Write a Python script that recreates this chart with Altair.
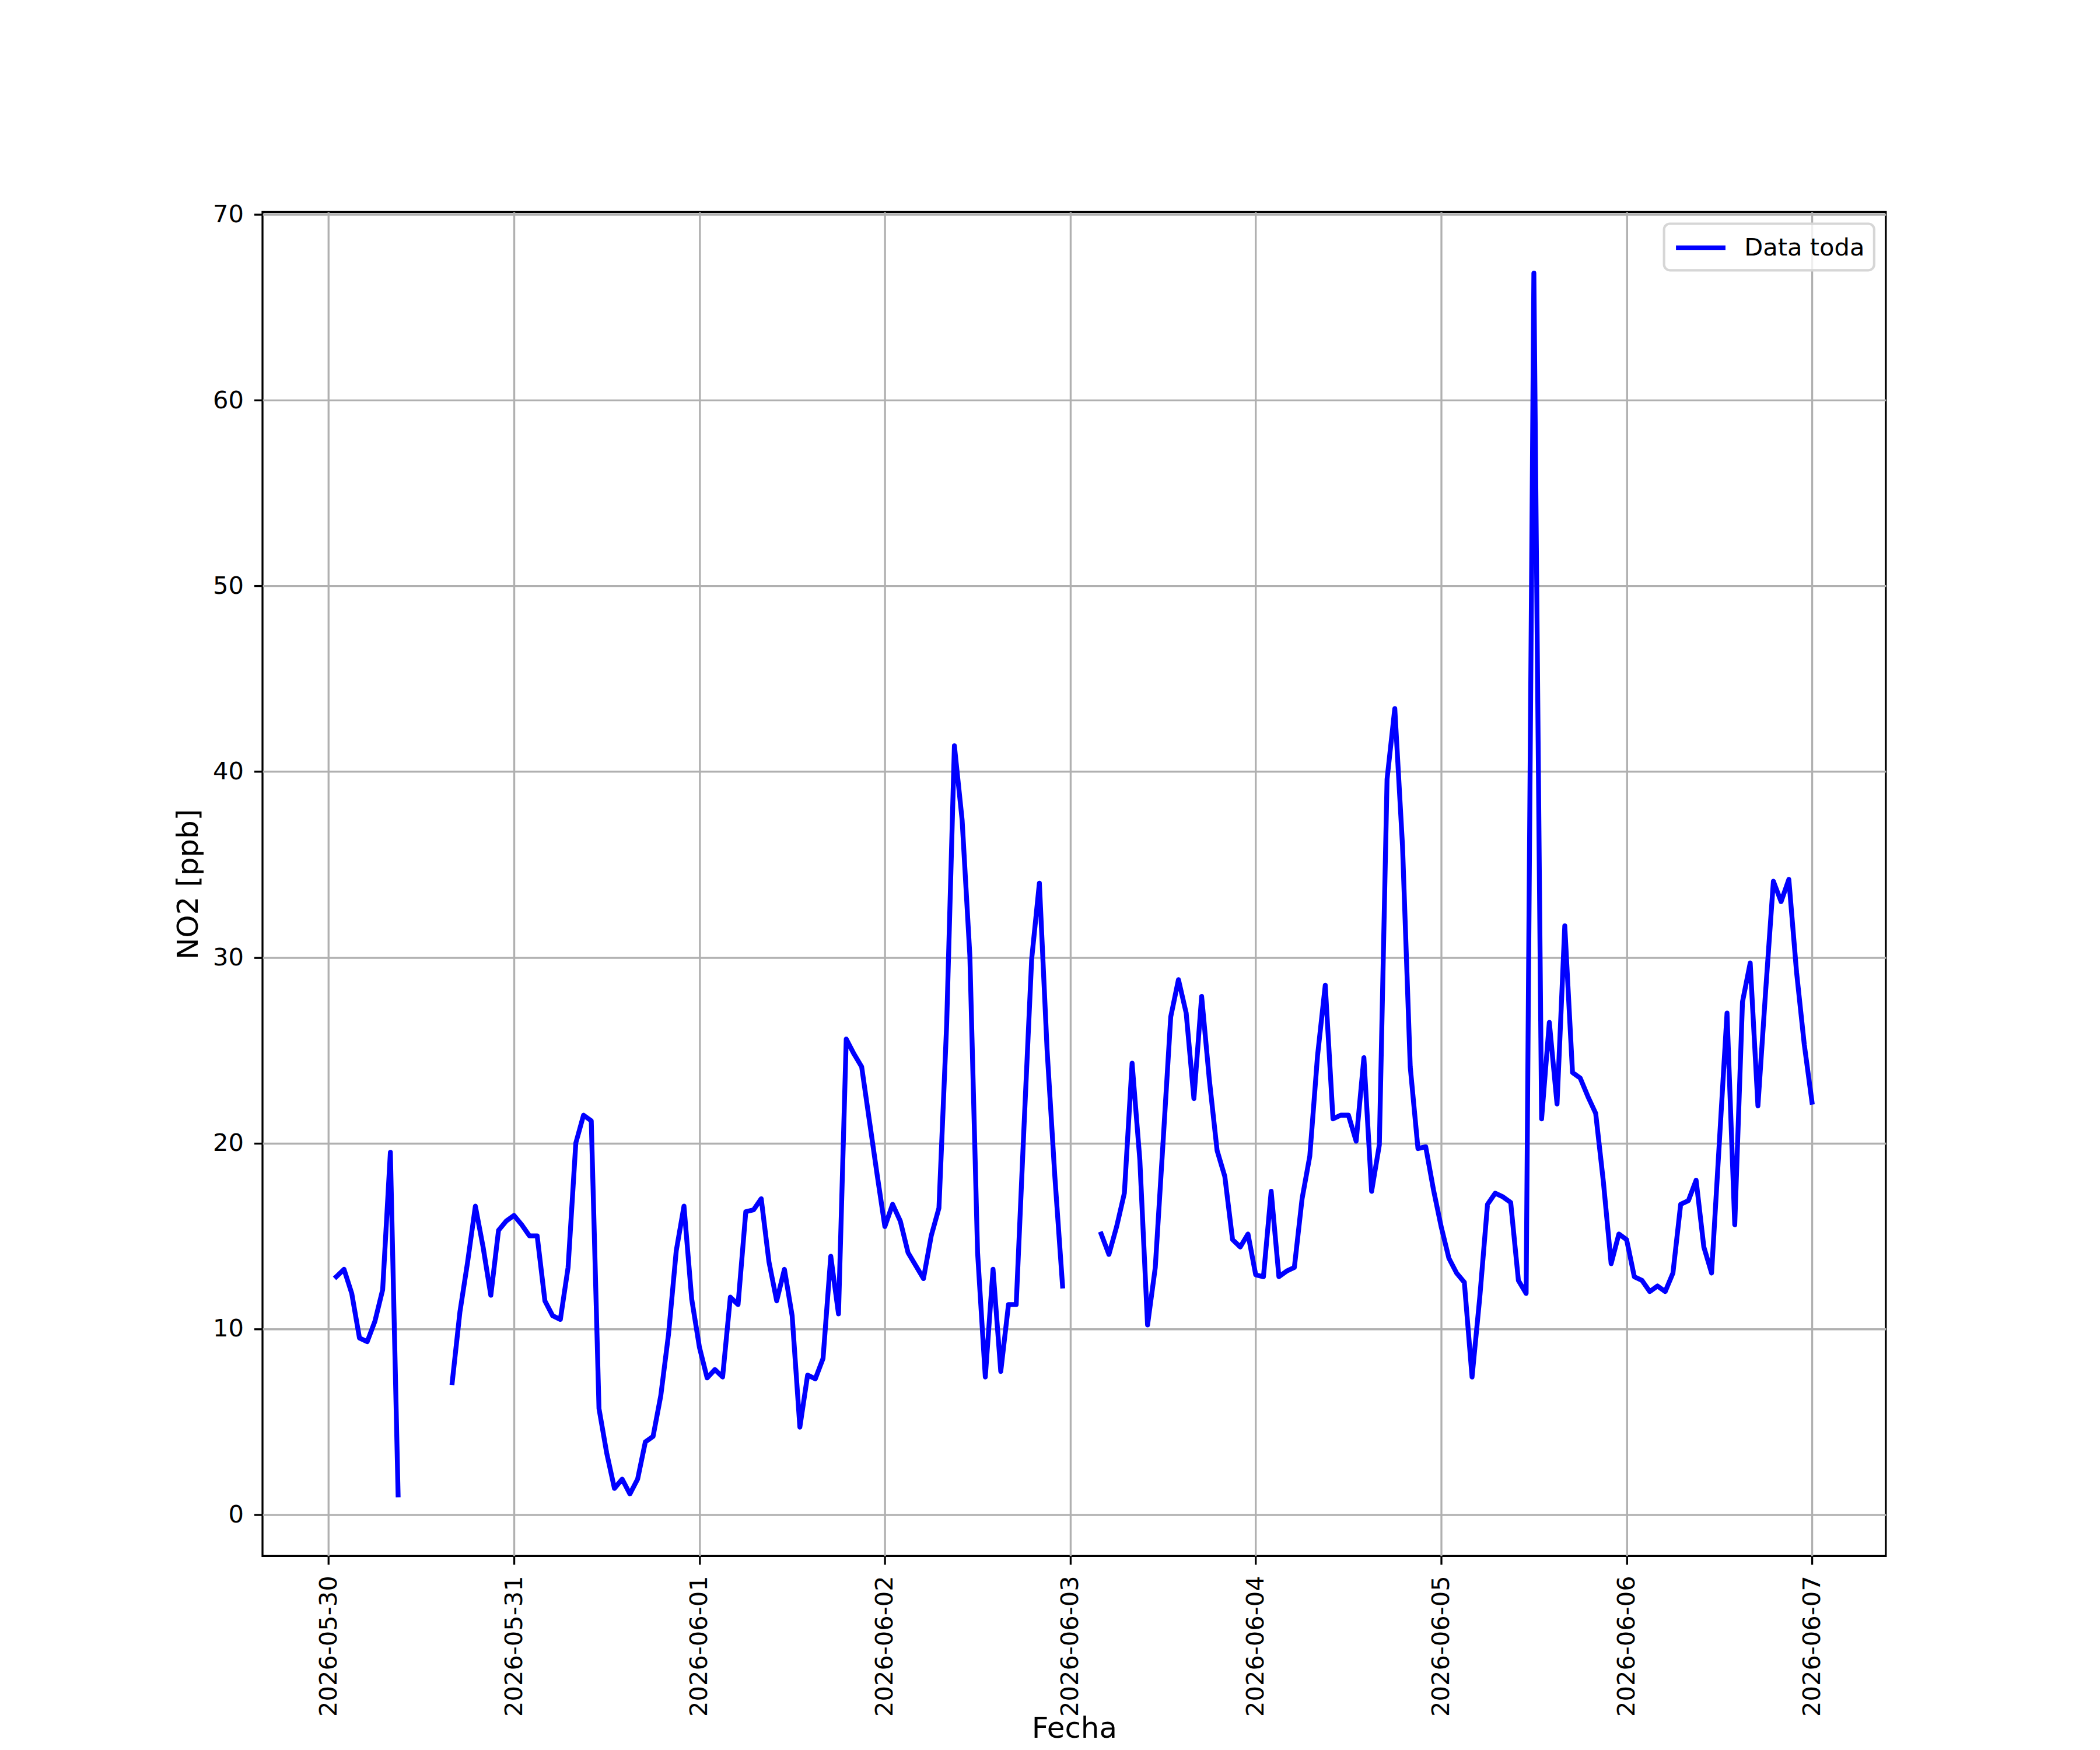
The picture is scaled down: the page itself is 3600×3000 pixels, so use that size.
import altair as alt
import pandas as pd

# ---------------- datos ----------------
inicio = "2026-05-30 00:00"          # hora 0 de la serie horaria
serie = "Data toda"
titulo_x = "Fecha"
titulo_y = "NO2 [ppb]"

# NO2 horario [ppb]; None = dato faltante
no2_0530 = [None, 12.8, 13.2, 11.9, 9.5, 9.3, 10.4, 12.1, 19.5, 1.05,
            None, None, None, None, None, None,
            7.1, 10.9, 13.6, 16.6, 14.4, 11.8, 15.3, 15.8]
no2_0531 = [16.1, 15.6, 15.0, 15.0, 11.5, 10.7, 10.5, 13.3, 20.0, 21.5, 21.2, 5.7,
            3.3, 1.4, 1.9, 1.1, 1.9, 3.9, 4.2, 6.4, 9.7, 14.2, 16.6, 11.6]
no2_0601 = [9.0, 7.35, 7.8, 7.4, 11.7, 11.3, 16.3, 16.4, 17.0, 13.6, 11.5, 13.2,
            10.7, 4.7, 7.5, 7.3, 8.4, 13.9, 10.8, 25.6, 24.8, 24.1, 21.2, 18.3]
no2_0602 = [15.5, 16.7, 15.8, 14.1, 13.4, 12.7, 15.0, 16.5, 26.4, 41.4, 37.4, 30.1,
            14.1, 7.4, 13.2, 7.7, 11.3, 11.3, 20.8, 29.9, 34.0, 25.0, 18.2, 12.3]
no2_0603 = [None, None, None, None, 15.1, 14.0, 15.5, 17.3, 24.3, 19.1, 10.2, 13.3,
            20.0, 26.8, 28.8, 27.0, 22.4, 27.9, 23.4, 19.6, 18.2, 14.8, 14.4, 15.1]
no2_0604 = [12.9, 12.8, 17.4, 12.8, 13.1, 13.3, 17.0, 19.3, 24.7, 28.5, 21.3, 21.5,
            21.5, 20.1, 24.6, 17.4, 19.9, 39.6, 43.4, 36.0, 24.1, 19.7, 19.8, 17.5]
no2_0605 = [15.5, 13.8, 13.0, 12.5, 7.4, 11.7, 16.7, 17.3, 17.1, 16.8, 12.6, 11.9,
            66.85, 21.3, 26.5, 22.1, 31.7, 23.8, 23.5, 22.5, 21.6, 17.9, 13.5, 15.1]
no2_0606 = [14.8, 12.8, 12.6, 12.0, 12.3, 12.0, 13.0, 16.7, 16.9, 18.0, 14.4, 13.0,
            20.0, 27.0, 15.6, 27.6, 29.7, 22.0, 28.2, 34.1, 33.0, 34.2, 29.2, 25.3]
no2_0607 = [22.2]

ticks_fecha = [(2026, 5, 30), (2026, 5, 31), (2026, 6, 1), (2026, 6, 2), (2026, 6, 3),
               (2026, 6, 4), (2026, 6, 5), (2026, 6, 6), (2026, 6, 7)]
ticks_y = [0, 10, 20, 30, 40, 50, 60, 70]

# ---------------- tabla ----------------
no2 = (no2_0530 + no2_0531 + no2_0601 + no2_0602 + no2_0603 +
       no2_0604 + no2_0605 + no2_0606 + no2_0607)
fechas = pd.date_range(inicio, periods=len(no2), freq="h")
df = pd.DataFrame({"fecha": fechas, "no2": no2})
df["tramo"] = df["no2"].isna().cumsum()
df = df.dropna().copy()
df["serie"] = serie

# márgenes automáticos tipo matplotlib (5 %)
t0, t1 = df["fecha"].min(), df["fecha"].max()
dt = (t1 - t0) * 0.05
lo_t, hi_t = t0 - dt, t1 + dt
ymin, ymax = df["no2"].min(), df["no2"].max()
dy = (ymax - ymin) * 0.05
df["fecha"] = df["fecha"].dt.strftime("%Y-%m-%dT%H:%M:%S")


def dtobj(t):
    return alt.DateTime(year=t.year, month=t.month, date=t.day,
                        hours=t.hour, minutes=t.minute, seconds=t.second)


PT = 300 / 72.0
FONT = "DejaVu Sans"
SYM = 42.0  # lado del símbolo de leyenda (alto de fila)

chart = alt.Chart(df).mark_line(
    strokeWidth=2.0 * PT, strokeJoin="round", strokeCap="square"
).encode(
    x=alt.X("fecha:T", title=titulo_x,
            scale=alt.Scale(domain=[dtobj(lo_t), dtobj(hi_t)], nice=False),
            axis=alt.Axis(values=[alt.DateTime(year=a, month=m, date=d) for a, m, d in ticks_fecha],
                          format="%Y-%m-%d", labelAngle=270, labelFlush=False,
                          labelOverlap=False, labelPadding=19,
                          titleBaseline="top", titleY=272)),
    y=alt.Y("no2:Q", title=titulo_y,
            scale=alt.Scale(domain=[ymin - dy, ymax + dy], nice=False, zero=False),
            axis=alt.Axis(values=ticks_y, labelPadding=18, titlePadding=16)),
    detail="tramo:N",
    color=alt.Color("serie:N", scale=alt.Scale(range=["#0000ff"]),
                    legend=alt.Legend(title=None, orient="top-right", offset=20,
                                      symbolType="M-1,0L3.05,0", symbolSize=SYM * SYM,
                                      symbolStrokeWidth=2.0 * PT,
                                      labelFontSize=10 * PT, labelOffset=71,
                                      labelLimit=2000,
                                      padding=16, strokeColor="#d6d6d6",
                                      fillColor="rgba(255,255,255,0.8)",
                                      cornerRadius=10, labelColor="black",
                                      labelFont=FONT)),
).properties(
    width=2789, height=2309,
    autosize=alt.AutoSizeParams(type="none"),
    padding={"left": 443, "top": 353, "right": 360, "bottom": 322},
    background="white",
).configure_axis(
    labelFont=FONT, titleFont=FONT,
    labelFontSize=10 * PT, titleFontSize=12 * PT,
    labelColor="black", titleColor="black", titleFontWeight="normal",
    tickColor="black", tickWidth=0.8 * PT, tickSize=3.5 * PT,
    labelLimit=2000, titleLimit=3000,
    grid=True, gridColor="#b0b0b0", gridWidth=0.8 * PT,
    domain=False,
).configure_view(
    stroke="black", strokeWidth=0.8 * PT,
).configure_legend(
    strokeWidth=1.0 * PT,
)

chart.save("out.html", embed_options={"renderer": "svg", "actions": False})
